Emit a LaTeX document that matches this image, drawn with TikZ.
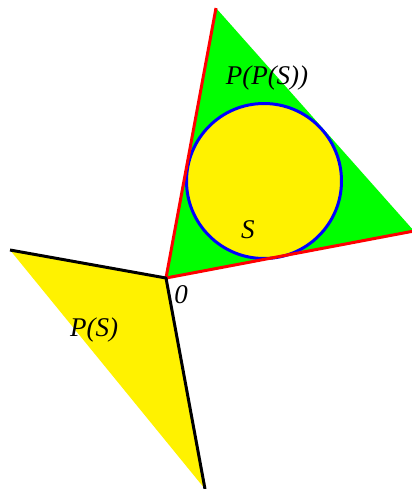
\documentclass[tikz,border=0pt]{standalone}
\usepackage{fontspec}
\setmainfont{Liberation Serif}
\usepackage{xcolor}
\usetikzlibrary{positioning, calc}

\begin{document}
\begin{tikzpicture}[x=0.5pt, y=-0.5pt,
					cone/.style={draw=red, line width=1.5pt, line join=round},
					polar/.style={draw=black, line width=1.5pt, line join=round},
					setc/.style={draw=blue, line width=1.5pt, fill=yellow},
					lbl/.style={font=\fontsize{13.5}{16}\selectfont\itshape, inner sep=0pt}
				]
					\clip (0,0) rectangle (412,489);
					
					% Points
					\coordinate (o) at (166,278);
					\coordinate (top) at (216,8);
					\coordinate (right) at (414,231);
					\coordinate (left) at (10,250);
					\coordinate (bottom) at (205,489);
					\coordinate (c) at (264,181);
					
					% Fills
					\fill[green] (o) -- (top) -- (right) -- cycle;
					\fill[yellow] (o) -- (left) -- (bottom) -- cycle;
					\draw[setc] (c) circle (77.5);
					
					% Edges
					\draw[cone] (top) -- (o) -- (right);
					\draw[polar] (left) -- (o) -- (bottom);
					
					% Labels
					\node[lbl] (pps) at (267,78) {P(P(S))};
					\node[lbl] (s) at (248,230) {S};
					\node[lbl] (ps) at (94,330) {P(S)};
					\node[lbl] (zero) at (181,295) {0};
				\end{tikzpicture}
\end{document}
